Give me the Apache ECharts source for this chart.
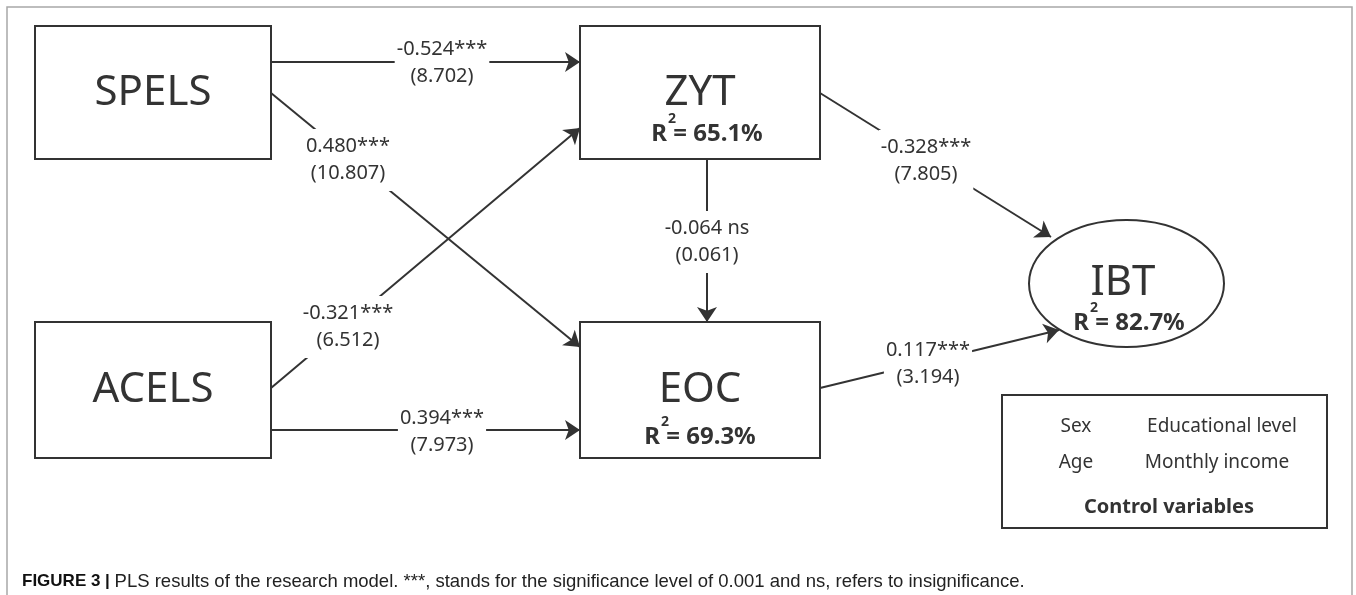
<!DOCTYPE html>
<html>
<head>
<meta charset="utf-8">
<script src="https://cdn.jsdelivr.net/npm/echarts@6/dist/echarts.min.js"></script>
<style>
html, body {margin: 0; padding: 0; background: #fff}
#chart {width: 1356px; height: 595px}
</style>
</head>
<body>
<div id="chart"></div>
<script>
// constructs of the model and their R squared
const nodes = ['SPELS', 'ACELS', 'ZYT', 'EOC', 'IBT']
const r2 = ['', '', '65.1%', '69.3%', '82.7%']
// structural paths: path coefficient and t value
const paths = [['SPELS', 'ZYT'], ['SPELS', 'EOC'], ['ACELS', 'ZYT'], ['ACELS', 'EOC'], ['ZYT', 'EOC'], ['ZYT', 'IBT'], ['EOC', 'IBT']]
const coefs = ['-0.524***', '0.480***', '-0.321***', '0.394***', '-0.064 ns', '-0.328***', '0.117***']
const tvals = ['(8.702)', '(10.807)', '(6.512)', '(7.973)', '(0.061)', '(7.805)', '(3.194)']
const controls = ['Sex', 'Educational level', 'Age', 'Monthly income']
const controlTitle = 'Control variables'
const captionHead = 'FIGURE 3'
const captionBody = 'PLS results of the research model. ***, stands for the significance level of 0.001 and ns, refers to insignificance.'

// layout, in the figure's own pixel space
const nodeBox = [[35, 26, 271, 159], [35, 322, 271, 458], [580, 26, 820, 159], [580, 322, 820, 458], [1029, 220, 1224, 347]]
const nodeText = [[153, 93], [153, 390], [700, 93], [700, 390], [1123, 283]]
const r2At = [null, null, [707, 134], [700, 437], [1129, 323]]
const edgeEnds = [
    [[271, 62], [580, 62]],
    [[271, 93], [580, 347]],
    [[271, 388], [580, 128]],
    [[268, 430], [580, 430]],
    [[707, 159], [707, 322]],
    [[820, 93], [1051, 237]],
    [[820, 388], [1059, 330]]
]
const labelAt = [[442, 63], [348, 160], [348, 327], [442, 432], [707, 242], [926, 161], [928, 364]]
const controlBox = [1002, 395, 1327, 528]
const controlAt = [[1076, 427], [1222, 427], [1076, 463], [1217, 463]]
const controlTitleAt = [1169, 507]

const ink = '#333'
const font = '"Noto Sans", "Open Sans", sans-serif'
const capFont = '"Liberation Sans", Arial, sans-serif'

const ctx2d = document.createElement('canvas').getContext('2d')
function measure(text, f) {
    ctx2d.font = f
    return ctx2d.measureText(text).width
}

window.onload = () => {
    const chart = echarts.init(document.getElementById('chart'))

    function renderNode(params, api) {
        const i = params.dataIndex
        const b = nodeBox[i]
        const p0 = api.coord([b[0], b[1]]), p1 = api.coord([b[2], b[3]])
        const children = []
        if (nodes[i] === 'IBT') {
            children.push({
                type: 'ellipse',
                shape: {cx: (p0[0] + p1[0]) / 2, cy: (p0[1] + p1[1]) / 2, rx: (p1[0] - p0[0]) / 2, ry: (p1[1] - p0[1]) / 2},
                style: {fill: '#fff', stroke: ink, lineWidth: 2}
            })
        } else {
            children.push({
                type: 'rect',
                shape: {x: p0[0], y: p0[1], width: p1[0] - p0[0], height: p1[1] - p0[1]},
                style: {fill: '#fff', stroke: ink, lineWidth: 2}
            })
        }
        const t = api.coord(nodeText[i])
        children.push({
            type: 'text', x: t[0], y: t[1],
            style: {text: nodes[i], font: '42px ' + font, fill: ink, align: 'center', verticalAlign: 'middle'}
        })
        if (r2[i]) {
            const r = api.coord(r2At[i])
            const f = 'bold 24px ' + font
            const full = 'R = ' + r2[i]
            const x0 = r[0] - measure(full, f) / 2
            children.push({
                type: 'text', x: x0, y: r[1],
                style: {text: full, font: f, fill: ink, align: 'left', verticalAlign: 'middle'}
            })
            children.push({
                type: 'text', x: x0 + measure('R', f) + 1, y: r[1] - 15,
                style: {text: '2', font: 'bold 14px ' + font, fill: ink, align: 'left', verticalAlign: 'middle'}
            })
        }
        return {type: 'group', children}
    }

    function renderControls(params, api) {
        const p0 = api.coord([controlBox[0], controlBox[1]]), p1 = api.coord([controlBox[2], controlBox[3]])
        const children = [{
            type: 'rect',
            shape: {x: p0[0], y: p0[1], width: p1[0] - p0[0], height: p1[1] - p0[1]},
            style: {fill: '#fff', stroke: ink, lineWidth: 2}
        }]
        controls.forEach((c, i) => {
            const p = api.coord(controlAt[i])
            children.push({
                type: 'text', x: p[0], y: p[1],
                style: {text: c, font: '19px ' + font, fill: ink, align: 'center', verticalAlign: 'middle'}
            })
        })
        const tp = api.coord(controlTitleAt)
        children.push({
            type: 'text', x: tp[0], y: tp[1],
            style: {text: controlTitle, font: 'bold 20px ' + font, fill: ink, align: 'center', verticalAlign: 'middle'}
        })
        return {type: 'group', children}
    }

    chart.setOption({
        animation: false,
        backgroundColor: '#fff',
        title: {
            left: 17,
            top: 567,
            text: '{b|' + captionHead + '}{s| | }{n|' + captionBody + '}',
            textStyle: {
                rich: {
                    b: {fontFamily: capFont, fontWeight: 'bold', fontSize: 17, color: '#111'},
                    s: {fontFamily: capFont, fontWeight: 'bold', fontSize: 17, color: '#111'},
                    n: {fontFamily: capFont, fontWeight: 'normal', fontSize: 18.5, color: '#222'}
                }
            }
        },
        graphic: [{
            type: 'rect',
            shape: {x: 7, y: 7, width: 1345, height: 640},
            style: {fill: 'none', stroke: '#a8a8a8', lineWidth: 1.5},
            silent: true
        }],
        grid: {left: 0, right: 0, top: 0, bottom: 0},
        xAxis: {type: 'value', min: 0, max: 1356, show: false},
        yAxis: {type: 'value', min: 0, max: 595, inverse: true, show: false},
        series: [
            {
                type: 'lines',
                coordinateSystem: 'cartesian2d',
                z: 2,
                symbol: ['none', 'arrow'],
                symbolSize: 15,
                lineStyle: {color: ink, width: 2, opacity: 1},
                data: paths.map((p, i) => ({name: p.join('-'), coords: edgeEnds[i]}))
            },
            {
                type: 'scatter',
                z: 3,
                symbolSize: 0,
                silent: true,
                itemStyle: {opacity: 1},
                label: {
                    show: true,
                    position: 'inside',
                    formatter: (p) => coefs[p.dataIndex] + '\n' + tvals[p.dataIndex],
                    fontFamily: font,
                    fontSize: 20,
                    lineHeight: 27,
                    color: ink,
                    backgroundColor: '#fff',
                    padding: [4, 2],
                    align: 'center'
                },
                data: labelAt
            },
            {
                type: 'custom',
                z: 4,
                renderItem: renderNode,
                data: nodes.map((n, i) => ({name: n, value: nodeText[i]}))
            },
            {
                type: 'custom',
                z: 4,
                renderItem: renderControls,
                data: [controlTitleAt]
            }
        ]
    })
}
</script>
</body>
</html>
